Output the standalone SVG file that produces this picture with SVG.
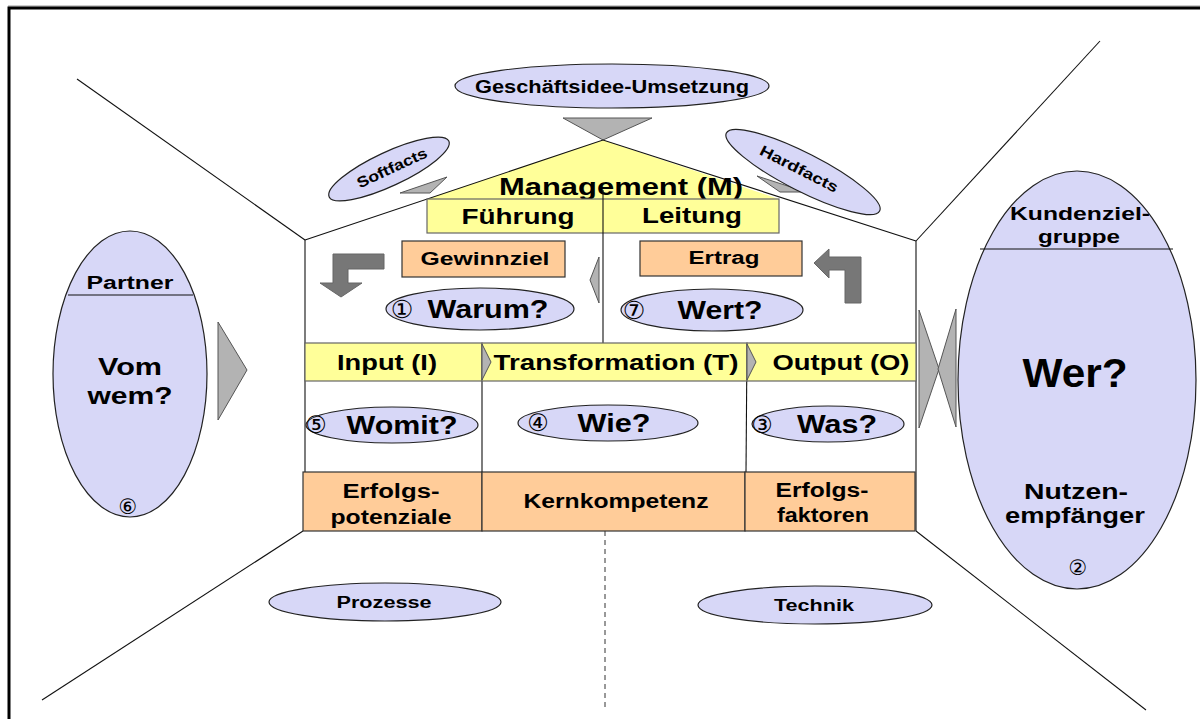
<svg xmlns="http://www.w3.org/2000/svg" width="1200" height="719" viewBox="0 0 1200 719">
<style>
text{font-family:"Liberation Sans",Arial,sans-serif;font-weight:bold;fill:#000;text-anchor:middle}
.num{font-family:"DejaVu Sans","Noto Sans CJK JP",sans-serif;font-weight:normal}
.ell{fill:#d7d7f7;stroke:#222;stroke-width:1.2}
.yel{fill:#ffff99;stroke:#666;stroke-width:1.2}
.org{fill:#ffcc99;stroke:#333;stroke-width:1.2}
.ln{stroke:#111;stroke-width:1.1;fill:none}
.tri{fill:#b3b3b3;stroke:#555;stroke-width:1}
.larr{fill:#777;stroke:#666;stroke-width:1}
</style>
<rect width="1200" height="719" fill="#fff"/>
<line x1="8" y1="6" x2="1200" y2="6" stroke="#999" stroke-width="1"/>
<rect x="9" y="8" width="1300" height="800" fill="none" stroke="#000" stroke-width="3"/>

<g id="connectors">
<line class="ln" x1="77" y1="79" x2="305" y2="240"/>
<line class="ln" x1="1100" y1="41" x2="916" y2="241"/>
<line class="ln" x1="303" y1="531" x2="42" y2="700"/>
<line class="ln" x1="916" y1="531" x2="1146" y2="710"/>
<line x1="605" y1="531" x2="605" y2="707" stroke="#333" stroke-width="1" stroke-dasharray="5,4"/>
<polygon class="tri" points="563,118 652,118 603,140"/>
<polygon class="tri" points="400,193 447,177 430,193"/>
<polygon class="tri" points="757,176 806,192 780,192"/>
<polygon class="tri" points="599,257 590,280 599,303"/>
<polygon class="tri" points="218,322 247,370 218,420"/>
<polygon class="tri" points="919,310 939,369 919,428"/>
<polygon class="tri" points="956,309 938,369 956,427"/>
<polygon class="larr" points="384,254 333,254 333,283 320,283 341,297 362,283 348,283 348,269 384,269"/>
<polygon class="larr" points="814,263 829,249 829,257 861,257 861,303 845,303 845,270 829,270 829,278"/>
</g>

<g id="house">
<polygon points="603,140 427,199 779,199" fill="#ffff99"/>
<polyline class="ln" points="305,240 603,140 916,241"/>
<line class="ln" x1="305" y1="240" x2="305" y2="531"/>
<line class="ln" x1="916" y1="241" x2="916" y2="531"/>
<line class="ln" x1="482" y1="343" x2="482" y2="472"/>
<line class="ln" x1="747" y1="343" x2="746" y2="472"/>
</g>

<g id="geschaeftsidee">
<ellipse class="ell" cx="612" cy="86" rx="157" ry="22"/>
<text x="612" y="93" font-size="18" textLength="274" lengthAdjust="spacingAndGlyphs">Geschäftsidee-Umsetzung</text>
</g>

<g id="softfacts">
<ellipse class="ell" cx="389" cy="169" rx="66" ry="17" transform="rotate(-25 389 169)"/>
<text x="0" y="5" font-size="15" textLength="76" lengthAdjust="spacingAndGlyphs" transform="translate(392,168) rotate(-25)">Softfacts</text>
</g>

<g id="hardfacts">
<ellipse class="ell" cx="803" cy="172" rx="86" ry="19" transform="rotate(27 803 172)"/>
<text x="0" y="5" font-size="15" textLength="86" lengthAdjust="spacingAndGlyphs" transform="translate(799,169) rotate(27)">Hardfacts</text>
</g>

<g id="management">
<text x="621" y="195" font-size="23" textLength="244" lengthAdjust="spacingAndGlyphs">Management (M)</text>
<rect class="yel" x="427" y="199" width="352" height="34"/>
<line class="ln" x1="603" y1="190" x2="603" y2="343"/>
<text x="518" y="224" font-size="22" textLength="113" lengthAdjust="spacingAndGlyphs">Führung</text>
<text x="692" y="223" font-size="22" textLength="100" lengthAdjust="spacingAndGlyphs">Leitung</text>
</g>

<g id="gewinnziel">
<rect class="org" x="402" y="241" width="163" height="36"/>
<text x="485" y="265" font-size="18" textLength="129" lengthAdjust="spacingAndGlyphs">Gewinnziel</text>
</g>
<g id="ertrag">
<rect class="org" x="640" y="241" width="162" height="35"/>
<text x="724" y="264" font-size="18" textLength="71" lengthAdjust="spacingAndGlyphs">Ertrag</text>
</g>

<g id="warum">
<ellipse class="ell" cx="480" cy="309" rx="94" ry="21"/>
<text class="num" x="402" y="318" font-size="25">①</text>
<text x="488" y="318" font-size="26" textLength="121" lengthAdjust="spacingAndGlyphs">Warum?</text>
</g>
<g id="wert">
<ellipse class="ell" cx="712" cy="310" rx="91" ry="21"/>
<text class="num" x="634" y="319" font-size="25">⑦</text>
<text x="720" y="319" font-size="26" textLength="85" lengthAdjust="spacingAndGlyphs">Wert?</text>
</g>

<g id="input">
<rect class="yel" x="305" y="343" width="177" height="38" stroke="#333"/>
<text x="387" y="370" font-size="22" textLength="100" lengthAdjust="spacingAndGlyphs">Input (I)</text>
</g>
<g id="transformation">
<rect class="yel" x="482" y="343" width="265" height="38" stroke="#333"/>
<text x="616" y="370" font-size="22" textLength="245" lengthAdjust="spacingAndGlyphs">Transformation (T)</text>
</g>
<g id="output">
<rect class="yel" x="747" y="343" width="169" height="38" stroke="#333"/>
<text x="841" y="370" font-size="22" textLength="137" lengthAdjust="spacingAndGlyphs">Output (O)</text>
</g>
<polygon class="tri" points="482,344 491,362 482,380"/>
<polygon class="tri" points="747,344 756,362 747,380"/>

<g id="womit">
<ellipse class="ell" cx="392" cy="425" rx="86" ry="18"/>
<text class="num" x="316" y="433" font-size="24">⑤</text>
<text x="402" y="434" font-size="25" textLength="111" lengthAdjust="spacingAndGlyphs">Womit?</text>
</g>
<g id="wie">
<ellipse class="ell" cx="608" cy="423" rx="90" ry="18"/>
<text class="num" x="538" y="431" font-size="24">④</text>
<text x="614" y="432" font-size="25" textLength="73" lengthAdjust="spacingAndGlyphs">Wie?</text>
</g>
<g id="was">
<ellipse class="ell" cx="828" cy="424" rx="76" ry="18"/>
<text class="num" x="762" y="433" font-size="24">③</text>
<text x="837" y="433" font-size="25" textLength="80" lengthAdjust="spacingAndGlyphs">Was?</text>
</g>

<g id="erfolgspotenziale">
<rect class="org" x="303" y="472" width="179" height="59"/>
<text x="391" y="498" font-size="20" textLength="97" lengthAdjust="spacingAndGlyphs">Erfolgs-</text>
<text x="391" y="524" font-size="20" textLength="121" lengthAdjust="spacingAndGlyphs">potenziale</text>
</g>
<g id="kernkompetenz">
<rect class="org" x="482" y="472" width="263" height="59"/>
<text x="616" y="508" font-size="20" textLength="185" lengthAdjust="spacingAndGlyphs">Kernkompetenz</text>
</g>
<g id="erfolgsfaktoren">
<rect class="org" x="745" y="472" width="170" height="59"/>
<text x="822" y="497" font-size="20" textLength="93" lengthAdjust="spacingAndGlyphs">Erfolgs-</text>
<text x="823" y="522" font-size="20" textLength="92" lengthAdjust="spacingAndGlyphs">faktoren</text>
</g>

<g id="prozesse">
<ellipse class="ell" cx="385" cy="602" rx="116" ry="19"/>
<text x="384" y="608" font-size="16" textLength="95" lengthAdjust="spacingAndGlyphs">Prozesse</text>
</g>
<g id="technik">
<ellipse class="ell" cx="815" cy="605" rx="117" ry="19"/>
<text x="814" y="611" font-size="16" textLength="80" lengthAdjust="spacingAndGlyphs">Technik</text>
</g>

<g id="partner">
<ellipse class="ell" cx="130" cy="374" rx="77" ry="143"/>
<line class="ln" x1="68" y1="295" x2="193" y2="295"/>
<text x="130" y="289" font-size="18" textLength="87" lengthAdjust="spacingAndGlyphs">Partner</text>
<text x="130" y="375" font-size="24" textLength="64" lengthAdjust="spacingAndGlyphs">Vom</text>
<text x="130" y="404" font-size="24" textLength="85" lengthAdjust="spacingAndGlyphs">wem?</text>
<text class="num" x="128" y="514" font-size="21">⑥</text>
</g>

<g id="kunden">
<ellipse class="ell" cx="1077" cy="380" rx="119" ry="209"/>
<line class="ln" x1="980" y1="249" x2="1173" y2="249"/>
<text x="1080" y="220" font-size="18" textLength="140" lengthAdjust="spacingAndGlyphs">Kundenziel-</text>
<text x="1079" y="243" font-size="18" textLength="82" lengthAdjust="spacingAndGlyphs">gruppe</text>
<text x="1075" y="387" font-size="41" textLength="105" lengthAdjust="spacingAndGlyphs">Wer?</text>
<text x="1076" y="499" font-size="22" textLength="104" lengthAdjust="spacingAndGlyphs">Nutzen-</text>
<text x="1075" y="523" font-size="22" textLength="140" lengthAdjust="spacingAndGlyphs">empfänger</text>
<text class="num" x="1078" y="575" font-size="21">②</text>
</g>
</svg>
